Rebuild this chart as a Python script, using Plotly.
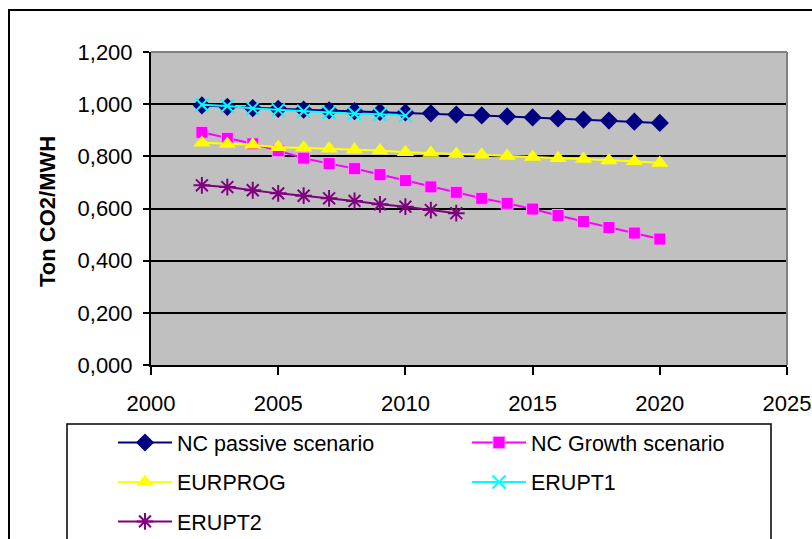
import plotly.graph_objects as go

# Emission factors (ton CO2 per MWh) by year
years_nc = list(range(2002, 2021))
nc_passive = [0.995, 0.990, 0.985, 0.982, 0.979, 0.976, 0.973, 0.970, 0.968, 0.965,
              0.960, 0.957, 0.953, 0.949, 0.945, 0.941, 0.937, 0.933, 0.928]
nc_growth = [0.892, 0.869, 0.848, 0.822, 0.793, 0.772, 0.753, 0.730, 0.707, 0.683,
             0.662, 0.639, 0.620, 0.598, 0.573, 0.550, 0.527, 0.506, 0.483]
eurprog = [0.852, 0.847, 0.844, 0.835, 0.833, 0.829, 0.825, 0.822, 0.816, 0.813,
           0.809, 0.806, 0.801, 0.797, 0.793, 0.790, 0.784, 0.781, 0.774]
years_erupt1 = list(range(2002, 2011))
erupt1 = [0.998, 0.993, 0.984, 0.978, 0.973, 0.968, 0.963, 0.961, 0.956]
years_erupt2 = list(range(2002, 2013))
erupt2 = [0.689, 0.682, 0.670, 0.658, 0.649, 0.639, 0.629, 0.616, 0.607, 0.594, 0.582]

x_ticks = [2000, 2005, 2010, 2015, 2020, 2025]
y_ticks = [0.0, 0.2, 0.4, 0.6, 0.8, 1.0, 1.2]

FONT = "Liberation Sans, Arial, sans-serif"

fig = go.Figure()

series = [
    ("NC passive scenario", years_nc, nc_passive, "#000080",
     dict(symbol="diamond", size=14, color="#000080"), "legend"),
    ("NC Growth scenario", years_nc, nc_growth, "#FF00FF",
     dict(symbol="square", size=12, color="#FF00FF", line=dict(color="#FF9CFF", width=1)), "legend2"),
    ("EURPROG", years_nc, eurprog, "#FFFF00",
     dict(symbol="triangle-up", size=15, color="#FFFF00"), "legend"),
    ("ERUPT1", years_erupt1, erupt1, "#00FFFF",
     dict(symbol="x-thin", size=13, color="#00FFFF", line=dict(color="#00FFFF", width=2)), "legend2"),
    ("ERUPT2", years_erupt2, erupt2, "#800080",
     dict(symbol="asterisk", size=14, color="#800080", line=dict(color="#800080", width=2)), "legend"),
]

for name, xs, ys, col, mk, lg in series:
    fig.add_trace(go.Scatter(
        x=xs, y=ys, name=name, mode="lines+markers",
        line=dict(color=col, width=2), marker=mk,
        legend=lg, legendgroup=name,
    ))

# plot area: 151..787 px horizontally, 52..365 px vertically
L, R, T, B = 151, 787, 52, 365
W, H = 812, 539
pw, ph = R - L, B - T


def px(xp):
    return (xp - L) / pw


def py(yp):
    return (B - yp) / ph


shapes = [
    # grey top and right edges of the plot area
    dict(type="line", xref="paper", yref="paper", x0=0, x1=1, y0=1, y1=1,
         line=dict(color="#808080", width=2)),
    dict(type="line", xref="paper", yref="paper", x0=1, x1=1, y0=0, y1=1,
         line=dict(color="#808080", width=2)),
    # outer chart frame
    dict(type="rect", xref="paper", yref="paper",
         x0=px(9), x1=px(830), y0=py(560), y1=py(10),
         line=dict(color="black", width=2), fillcolor="rgba(0,0,0,0)"),
    # legend frame
    dict(type="rect", xref="paper", yref="paper",
         x0=px(67), x1=px(771), y0=py(560), y1=py(424),
         line=dict(color="black", width=1.5), fillcolor="rgba(0,0,0,0)"),
]

legend_common = dict(
    orientation="v", xanchor="left", yanchor="top",
    bgcolor="rgba(0,0,0,0)", borderwidth=0,
    font=dict(family=FONT, size=21.5, color="black"),
    itemwidth=54, tracegroupgap=8.5, traceorder="grouped",
)

fig.update_layout(
    width=W, height=H,
    margin=dict(l=L, r=W - R, t=T, b=H - B, autoexpand=False),
    paper_bgcolor="white", plot_bgcolor="#C0C0C0",
    font=dict(family=FONT, size=22, color="black"),
    showlegend=True,
    legend=dict(x=px(113), y=py(422), **legend_common),
    legend2=dict(x=px(467), y=py(422), **legend_common),
    shapes=shapes,
    annotations=[dict(
        text="<b>Ton CO2/MWH</b>", xref="paper", yref="paper",
        x=px(47), y=py(212), textangle=-90, showarrow=False,
        font=dict(family=FONT, size=22, color="black"),
        xanchor="center", yanchor="middle",
    )],
)

fig.update_xaxes(
    range=[2000, 2025], tickvals=x_ticks, ticktext=[str(v) for v in x_ticks],
    showgrid=False, zeroline=False, showline=True, linecolor="black", linewidth=2,
    ticks="outside", ticklen=8, tickwidth=2, tickcolor="black",
    ticklabelstandoff=10,
    tickfont=dict(family=FONT, size=22, color="black"),
)
fig.update_yaxes(
    range=[0, 1.2], tickvals=y_ticks, ticktext=[f"{v:.3f}".replace(".", ",") for v in y_ticks],
    showgrid=True, gridcolor="black", gridwidth=1.5, zeroline=False,
    showline=True, linecolor="black", linewidth=2,
    ticks="outside", ticklen=6, tickwidth=2, tickcolor="black",
    ticklabelstandoff=6,
    tickfont=dict(family=FONT, size=22, color="black"),
)

fig.write_html("out.html")
